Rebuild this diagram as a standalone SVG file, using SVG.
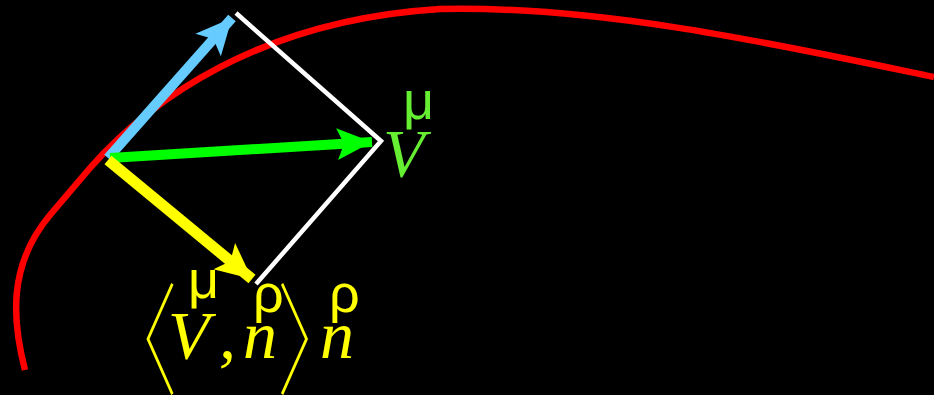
<svg xmlns="http://www.w3.org/2000/svg" width="934" height="395" viewBox="0 0 934 395">
<style>
.ser{font-family:"Liberation Serif","Times New Roman",serif;font-style:italic;font-size:68px}
.sym{font-family:"Liberation Sans",Arial,sans-serif;font-size:54px}
.br{font-family:"Noto Sans CJK JP",sans-serif;font-weight:100;font-size:115px}
.yel{fill:#ffff00}
.grn{fill:#66ee33}
</style>
<defs>
<marker id="hBlue" markerUnits="userSpaceOnUse" markerWidth="44" markerHeight="44" viewBox="-40 -20 44 40" refX="0" refY="0" orient="auto">
<path d="M0,0 L-36,-17 L-28,0 L-36,17 Z" fill="#66ccff"/>
</marker>
<marker id="hGreen" markerUnits="userSpaceOnUse" markerWidth="44" markerHeight="44" viewBox="-40 -20 44 40" refX="0" refY="0" orient="auto">
<path d="M0,0 L-35,-16 L-28,0 L-35,16 Z" fill="#00ff00"/>
</marker>
<marker id="hYellow" markerUnits="userSpaceOnUse" markerWidth="44" markerHeight="44" viewBox="-40 -20 44 40" refX="0" refY="0" orient="auto">
<path d="M0,0 L-36,-17 L-28,0 L-36,17 Z" fill="#ffff00"/>
</marker>
</defs>
<rect width="934" height="395" fill="#000"/>
<g id="curve">
<path d="M25,370 C12,320 8,265 50,215 L90,168 C150,100 260,20 440,9 C600,5 780,45 934,77" fill="none" stroke="#ff0000" stroke-width="6.5"/>
</g>
<g id="connectors">
<polyline points="236,13 381,141 256,284" fill="none" stroke="#ffffff" stroke-width="4.5"/>
<line x1="108" y1="158" x2="232" y2="18" stroke="#66ccff" stroke-width="10" marker-end="url(#hBlue)"/>
<line x1="110" y1="158" x2="372" y2="142" stroke="#00ff00" stroke-width="10" marker-end="url(#hGreen)"/>
<line x1="108" y1="160" x2="252" y2="279" stroke="#ffff00" stroke-width="11" marker-end="url(#hYellow)"/>
</g>
<g id="label-V">
<text class="sym grn" x="403" y="119">μ</text>
<text class="ser grn" x="383" y="176">V</text>
</g>
<g id="label-projection">
<text class="br yel" transform="translate(97,384.6) scale(0.7,1.06)">〈</text>
<text class="sym yel" x="188" y="298">μ</text>
<text class="ser yel" x="168" y="358">V</text>
<text class="ser yel" x="219" y="358">,</text>
<text class="sym yel" x="253" y="312">ρ</text>
<text class="ser yel" x="243" y="358">n</text>
<text class="br yel" transform="translate(277,384.6) scale(0.7,1.06)">〉</text>
<text class="sym yel" x="329" y="312">ρ</text>
<text class="ser yel" x="320" y="358">n</text>
</g>
</svg>
